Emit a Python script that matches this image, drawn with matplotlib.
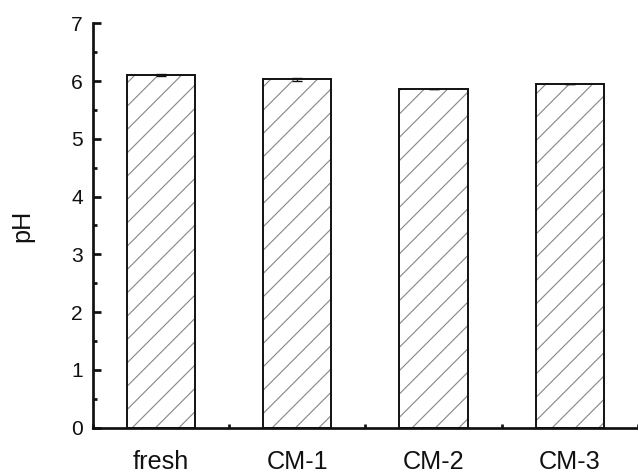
import matplotlib
matplotlib.use("Agg")
import matplotlib.pyplot as plt
from matplotlib.ticker import MultipleLocator

plt.rcParams["font.family"] = ["Liberation Sans", "DejaVu Sans"]
plt.rcParams["hatch.linewidth"] = 0.6

# data
samples = ["fresh", "CM-1", "CM-2", "CM-3"]
ph_mean = [6.11, 6.03, 5.86, 5.95]
ph_err = [0.015, 0.03, 0.0, 0.0]

DPI = 140
fig = plt.figure(figsize=(638 / DPI, 475 / DPI), dpi=DPI)
ax = fig.add_axes([0.1453, 0.0996, 0.8547, 0.8514])

x = list(range(len(samples)))
# grey hatch layer, then black outline on top
ax.bar(x, ph_mean, width=0.5, color="white", edgecolor="#8a8a8a",
       hatch="//", linewidth=0, zorder=2)
ax.bar(x, ph_mean, width=0.5, fill=False, edgecolor="#111111",
       linewidth=1.0, zorder=3)
ax.errorbar(x, ph_mean, yerr=ph_err, fmt="none", ecolor="#111111",
            elinewidth=0.7, capsize=2.6, capthick=0.7, zorder=4)

ax.set_xlim(-0.5, 3.5)
ax.set_ylim(0, 7)
ax.set_xticks(x)
ax.set_xticklabels(samples)
ax.xaxis.set_minor_locator(MultipleLocator(0.5))
ax.yaxis.set_major_locator(MultipleLocator(1))
ax.yaxis.set_minor_locator(MultipleLocator(0.5))

for side in ["top", "right"]:
    ax.spines[side].set_visible(False)
for side in ["left", "bottom"]:
    ax.spines[side].set_linewidth(1.4)
    ax.spines[side].set_color("#111111")

ax.tick_params(which="major", direction="in", length=4, width=1.4, color="#111111")
ax.tick_params(which="minor", direction="in", length=2, width=1.4, color="#111111")
ax.tick_params(axis="x", which="major", labelsize=13, pad=11.5, labelcolor="#111111")
ax.tick_params(axis="y", which="major", labelsize=10.8, pad=5, labelcolor="#111111")

ax.set_ylabel("pH", fontsize=13, color="#111111", labelpad=19)

fig.savefig("out.png", dpi=DPI)
